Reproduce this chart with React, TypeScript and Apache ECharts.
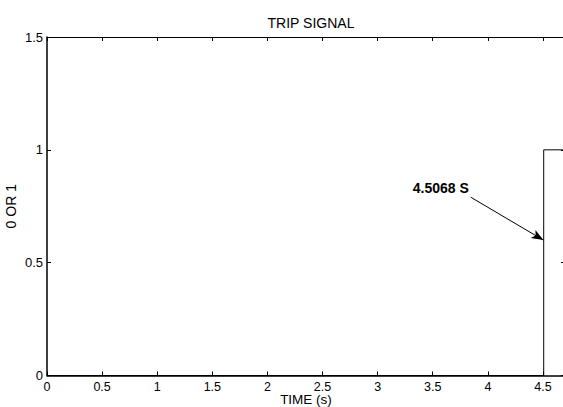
import React, { useEffect, useRef } from "react";
import * as echarts from "echarts";

const tripTime = [0, 4.5068, 4.5068, 4.7];
const tripValue = [0, 0, 1, 1];
const xTicks = [0, 0.5, 1, 1.5, 2, 2.5, 3, 3.5, 4, 4.5];
const yTicks = [0, 0.5, 1, 1.5];
const annotationText = "4.5068 S";
const arrowFrom = [3.845, 0.79];
const arrowTo = [4.504, 0.6];

const FONT = "Liberation Sans, Arial, Helvetica, sans-serif";

export default function App() {
  const ref = useRef<HTMLDivElement>(null);
  useEffect(() => {
    if (!ref.current) return;
    const chart = echarts.init(ref.current, null, { renderer: "svg" });
    const data = tripTime.map((t, i) => [t, tripValue[i]]);
    const xFmt = (v: number) => (xTicks.some((t) => Math.abs(t - v) < 1e-9) ? String(v) : "");
    const yFmt = (v: number) => (yTicks.some((t) => Math.abs(t - v) < 1e-9) ? String(v) : "");
    chart.setOption({
      animation: false,
      backgroundColor: "#ffffff",
      title: {
        text: "TRIP SIGNAL",
        left: 306,
        textAlign: "center",
        top: 11,
        textStyle: { fontFamily: FONT, fontSize: 14, fontWeight: "normal", color: "#000" },
      },
      grid: { left: 47, top: 37, width: 518, height: 338.5, outerBoundsMode: "none", containLabel: false },
      xAxis: [
        {
          type: "value",
          position: "bottom",
          min: 0,
          max: 4.7,
          interval: 0.5,
          name: "TIME (s)",
          nameLocation: "middle",
          nameGap: 17.5,
          nameMoveOverlap: false,
          nameTextStyle: { fontFamily: FONT, fontSize: 13.5, lineHeight: 13, color: "#000", verticalAlign: "top" },
          axisLine: { show: true, onZero: false, lineStyle: { color: "#000", width: 1.5 } },
          axisTick: { show: true, inside: true, length: 4, lineStyle: { color: "#000", width: 1 } },
          axisLabel: { fontFamily: FONT, fontSize: 12.5, lineHeight: 12, color: "#000", margin: 5, showMaxLabel: false, formatter: xFmt },
          splitLine: { show: false },
        },
        {
          type: "value",
          position: "top",
          min: 0,
          max: 4.7,
          interval: 0.5,
          axisLine: { show: true, onZero: false, lineStyle: { color: "#000", width: 1 } },
          axisTick: { show: true, inside: true, length: 4, lineStyle: { color: "#000", width: 1 } },
          axisLabel: { show: false },
          splitLine: { show: false },
        },
      ],
      yAxis: [
        {
          type: "value",
          position: "left",
          min: 0,
          max: 1.5,
          interval: 0.5,
          name: "0 OR 1",
          nameLocation: "middle",
          nameGap: 29,
          nameMoveOverlap: false,
          nameTextStyle: { fontFamily: FONT, fontSize: 14, color: "#000" },
          axisLine: { show: true, onZero: false, lineStyle: { color: "#000", width: 1.5 } },
          axisTick: { show: true, inside: true, length: 4, lineStyle: { color: "#000", width: 1 } },
          axisLabel: { fontFamily: FONT, fontSize: 13, color: "#000", margin: 4, formatter: yFmt },
          splitLine: { show: false },
        },
        {
          type: "value",
          position: "right",
          min: 0,
          max: 1.5,
          interval: 0.5,
          axisLine: { show: true, onZero: false, lineStyle: { color: "#000", width: 1 } },
          axisTick: { show: true, inside: true, length: 4, lineStyle: { color: "#000", width: 1 } },
          axisLabel: { show: false },
          splitLine: { show: false },
        },
      ],
      series: [
        {
          type: "line",
          data,
          xAxisIndex: 0,
          yAxisIndex: 0,
          symbol: "none",
          lineStyle: { color: "#000", width: 1 },
          markLine: {
            silent: true,
            symbol: ["none", "arrow"],
            symbolSize: [7, 12],
            lineStyle: { color: "#000", width: 1, type: "solid" },
            label: { show: false },
            data: [[{ coord: arrowFrom }, { coord: arrowTo }]],
          },
          markPoint: {
            silent: true,
            symbol: "circle",
            symbolSize: 0,
            data: [{ coord: arrowFrom }],
            label: {
              show: true,
              formatter: annotationText,
              position: "left",
              offset: [0, -9],
              distance: 2,
              fontFamily: FONT,
              fontSize: 14,
              fontWeight: "bold",
              color: "#000",
            },
          },
        },
      ],
    });
    return () => chart.dispose();
  }, []);
  return <div ref={ref} style={{ width: 563, height: 407, position: "absolute", left: 0, top: 0 }} />;
}
